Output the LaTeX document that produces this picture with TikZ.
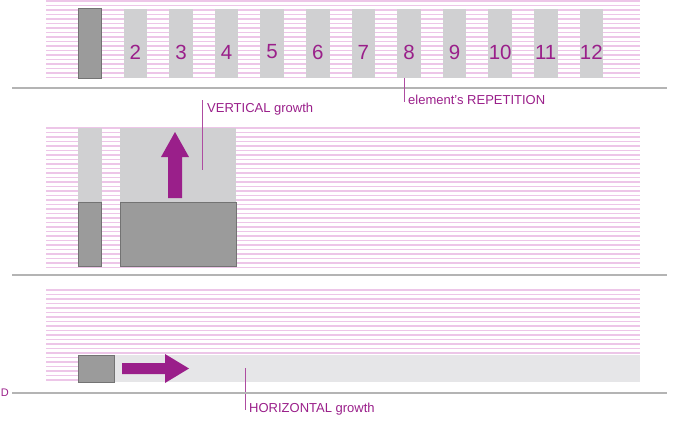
\documentclass[tikz,border=0pt]{standalone}
\usepackage{fontspec}
\setmainfont{Liberation Sans}
\definecolor{purp}{HTML}{9A1F8A}
\definecolor{pinkl}{HTML}{EDC6E8}
\definecolor{darkg}{HTML}{9B9B9B}
\definecolor{lightg}{HTML}{D0D0D2}
\definecolor{bandg}{HTML}{E6E6E8}
\definecolor{sepg}{HTML}{B4B4B4}
\begin{document}
\begin{tikzpicture}[x=1pt,y=-1pt,
  darkbox/.style={fill=darkg,draw=black!55,line width=0.6pt},
  lightbox/.style={fill=lightg},
  hatchline/.style={pinkl,line width=1.3pt},
  sepline/.style={sepg,line width=1.4pt},
  tagline/.style={purp!80,line width=0.7pt},
  tagtext/.style={purp,font=\fontsize{13}{15}\selectfont,inner sep=0pt,anchor=west},
  numtext/.style={purp,font=\fontsize{20.5}{23}\selectfont,inner sep=0pt},
  blockarrow/.style={fill=purp}]
\useasboundingbox (0,0) rectangle (675,421);
% ---------- top panel ----------
\foreach \y in {1,5.5,...,79} \draw[hatchline] (46,\y) -- (640,\y);
\path[darkbox] (78,8.5) rectangle (101.5,78);
\foreach \i in {2,...,12}{
  \pgfmathsetmacro{\xl}{78+(\i-1)*45.6}
  \path[lightbox] (\xl,8.5) rectangle ({\xl+23.5},78);
  \node[numtext] (n\i) at ({\xl+11.75},52) {\i};
}
\draw[sepline] (12,88) -- (667,88);
\coordinate (r8a) at (404,78);
\coordinate (r8b) at (404,102);
\draw[tagline] (r8a) -- (r8b);
\node[tagtext] (rep) at (408,100) {element's REPETITION};
% ---------- middle panel ----------
\foreach \y in {128,132.5,...,268} \draw[hatchline] (46,\y) -- (640,\y);
\path[lightbox] (78,128) rectangle (101.5,202);
\path[darkbox] (78,202) rectangle (101.5,266);
\path[lightbox] (120,128) rectangle (236,202);
\path[darkbox] (120,202) rectangle (236,266);
\path[blockarrow] (168,198) -- (182,198) -- (182,157) -- (189,157) -- (175,132) -- (161,157) -- (168,157) -- cycle;
\coordinate (va) at (202,100);
\coordinate (vb) at (202,170);
\draw[tagline] (va) -- (vb);
\node[tagtext] (vert) at (207,109) {VERTICAL growth};
\draw[sepline] (12,275) -- (667,275);
% ---------- bottom panel ----------
\foreach \y in {290,294.5,...,383} \draw[hatchline] (46,\y) -- (640,\y);
\path[fill=bandg] (78,355) rectangle (640,382);
\path[darkbox] (78,355) rectangle (114,382);
\path[blockarrow] (122,363) -- (165,363) -- (165,354) -- (189,368.5) -- (165,383) -- (165,374) -- (122,374) -- cycle;
\coordinate (ha) at (245,368);
\coordinate (hb) at (245,410);
\draw[tagline] (ha) -- (hb);
\node[tagtext] (hor) at (249,409) {HORIZONTAL growth};
\draw[sepline] (12,393) -- (667,393);
\node[purp,font=\fontsize{11}{13}\selectfont,inner sep=0pt,anchor=west] (dd) at (0.8,392.5) {D};
\end{tikzpicture}
\end{document}
